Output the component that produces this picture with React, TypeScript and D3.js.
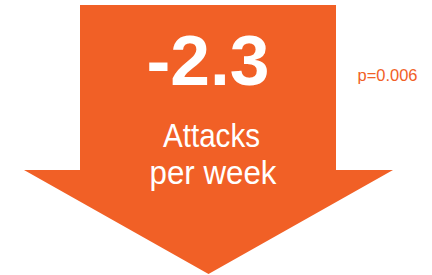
import React from "react";
import * as d3 from "d3";

const changeValue = [-2.3];
const labelLines = ["Attacks", "per week"];
const pValues = ["p=0.006"];

const W = 432;
const H = 275;
const ORANGE = "#F16026";

export default function App() {
  const x = d3.scaleLinear().domain([0, 1]).range([24, 393]);
  const y = d3.scaleLinear().domain([0, 1]).range([5, 274]);
  const shaftL = 80, shaftR = 336, shoulder = 170;
  const pts: [number, number][] = [
    [shaftL, y(0)],
    [shaftR, y(0)],
    [shaftR, shoulder],
    [x(1), shoulder],
    [(x(0) + x(1)) / 2, y(1)],
    [x(0), shoulder],
    [shaftL, shoulder],
  ];
  const path = d3.line()(pts) + "Z";
  const fmt = d3.formatLocale({ decimal: ".", thousands: ",", grouping: [3], currency: ["", ""], minus: "-" }).format(".1f");
  return (
    <svg
      width={W}
      height={H}
      style={{ position: "absolute", left: 0, top: 0 }}
      fontFamily="Liberation Sans, Arial, sans-serif"
    >
      <path d={path} fill={ORANGE} />
      <text
        x={208}
        y={85}
        textAnchor="middle"
        fontSize={70}
        fontWeight="bold"
        fill="#fff"
        textLength={123}
        lengthAdjust="spacingAndGlyphs"
      >
        {fmt(changeValue[0])}
      </text>
      <text
        x={211.5}
        y={146.7}
        textAnchor="middle"
        fontSize={33}
        fill="#fff"
        textLength={97}
        lengthAdjust="spacingAndGlyphs"
      >
        {labelLines[0]}
      </text>
      <text
        x={213}
        y={183.5}
        textAnchor="middle"
        fontSize={33}
        fill="#fff"
        textLength={127}
        lengthAdjust="spacingAndGlyphs"
      >
        {labelLines[1]}
      </text>
      <text x={357.5} y={80.5} fontSize={16} fill={ORANGE} textLength={60} lengthAdjust="spacingAndGlyphs">
        {pValues[0]}
      </text>
    </svg>
  );
}
